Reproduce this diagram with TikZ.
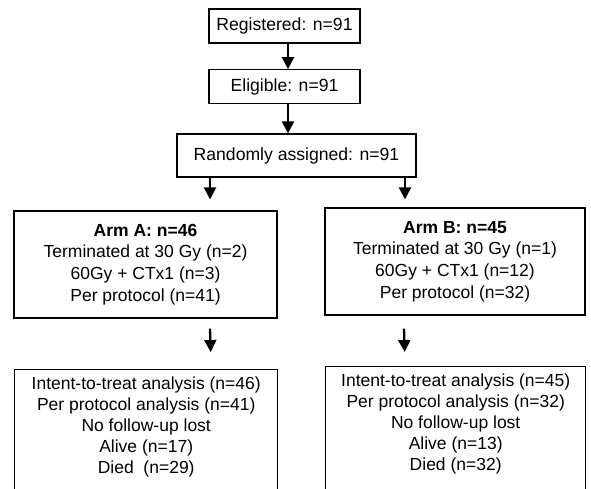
\documentclass[tikz,border=0pt]{standalone}
\usepackage{fontspec}
\setmainfont{Liberation Sans}
\usetikzlibrary{arrows.meta}
\begin{document}
\begin{tikzpicture}[x=1pt,y=-1pt,
  box/.style={draw, line width=1.3pt, inner sep=0pt, align=center},
  frame/.style={draw, line width=1.4pt, inner sep=0pt, anchor=north west},
  arr/.style={line width=2.3pt, -{Triangle[width=12pt,length=12pt]}},
  topfont/.style={font=\fontsize{17.6}{21}\selectfont},
  armfont/.style={font=\fontsize{17.5}{21.8}\selectfont}]
\useasboundingbox (0,0) rectangle (591,488);
\clip (0,0) rectangle (591,488);

\node[box, topfont, minimum width=151pt, minimum height=34pt] (reg) at (284.5,26) {Registered: n=91};
\node[box, topfont, minimum width=151pt, minimum height=33.5pt] (elig) at (284.5,86.5) {Eligible: n=91};
\node[box, topfont, minimum width=239pt, minimum height=43pt] (rand) at (296.5,155.5) {Randomly assigned: n=91};

\node[box, armfont, minimum width=263pt, minimum height=107pt] (armA) at (145.5,264.5)
  {\textbf{Arm A: n=46}\\Terminated at 30 Gy (n=2)\\60Gy + CTx1 (n=3)\\Per protocol (n=41)};
\node[box, armfont, minimum width=260pt, minimum height=107pt] (armB) at (455,261.5)
  {\textbf{Arm B: n=45}\\Terminated at 30 Gy (n=1)\\60Gy + CTx1 (n=12)\\Per protocol (n=32)};

\node[frame] (botA) at (14,369) {\begin{minipage}[t][140pt][t]{263pt}\fontsize{17.5}{20.8}\selectfont\centering
  \vspace*{7.5pt}Intent-to-treat analysis (n=46)\\Per protocol analysis (n=41)\\No follow-up lost\\Alive (n=17)\\Died~ (n=29)\end{minipage}};
\node[frame] (botB) at (325,366) {\begin{minipage}[t][140pt][t]{260pt}\fontsize{17.5}{20.8}\selectfont\centering
  \vspace*{7.5pt}Intent-to-treat analysis (n=45)\\Per protocol analysis (n=32)\\No follow-up lost\\Alive (n=13)\\Died (n=32)\end{minipage}};

\draw[arr] ([xshift=3.5pt]reg.south) -- ([xshift=3.5pt]elig.north);
\draw[arr] ([xshift=3.5pt]elig.south) -- ([xshift=-8.5pt]rand.north);
\draw[arr] ([xshift=-86.5pt]rand.south) -- ([xshift=64.5pt,yshift=11pt]armA.north);
\draw[arr] ([xshift=108.5pt]rand.south) -- ([xshift=-50pt,yshift=8pt]armB.north);
\draw[arr] ([xshift=64.5pt,yshift=-10pt]armA.south) -- ([xshift=64.5pt,yshift=17pt]botA.north);
\draw[arr] ([xshift=-51pt,yshift=-13pt]armB.south) -- ([xshift=-51pt,yshift=14pt]botB.north);
\end{tikzpicture}
\end{document}
